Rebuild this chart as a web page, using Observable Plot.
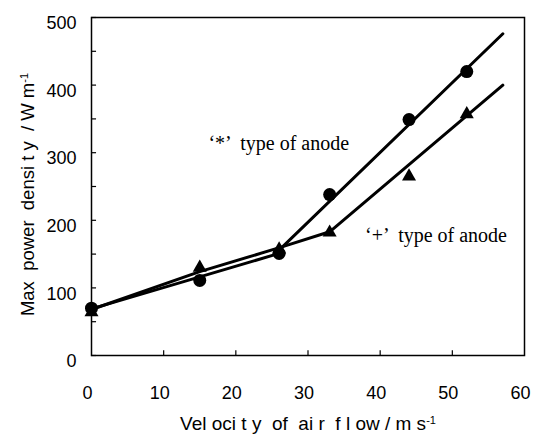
<!DOCTYPE html>
<html>
<head>
<meta charset="utf-8">
<script src="https://cdn.jsdelivr.net/npm/d3@7"></script>
<script src="https://cdn.jsdelivr.net/npm/@observablehq/plot@0.6"></script>
<style>
  html, body { margin: 0; padding: 0; background: #fff; }
</style>
</head>
<body>
<div id="chart"></div>
<script>
// Measured points
const velocity = [0, 15, 26, 33, 44, 52];
const circleDensity = [70, 111, 151, 238, 349, 420];     // '*' type of anode
const triangleDensity = [64, 130, 157, 182, 265, 357];   // '+' type of anode

// Fitted (piecewise) lines drawn in the figure
const circleFitX = [0, 26, 26.5, 57];
const circleFitY = [69, 151, 161, 476];
const triangleFitX = [0, 15, 26.5, 33, 57];
const triangleFitY = [68, 124, 161, 183, 400];

// Ticks
const xTicks = [0, 10, 20, 30, 40, 50, 60];
const yTicks = [0, 100, 200, 300, 400, 500];
const yMinorTicks = [50, 150, 250, 350, 450];

// Text
const xTitle = "Vel oci t y  of  ai r  f l ow / m s";
const yTitle = "Max  power  densi t y  / W m";
const unitSup = "-1";
const annotationText = ["\u2018*\u2019  type of anode", "\u2018+\u2019  type of anode"];
const annotationX = [16.2, 37.9];
const annotationY = [314, 177];

const circlePts = velocity.map((v, i) => ({x: v, y: circleDensity[i]}));
const trianglePts = velocity.map((v, i) => ({x: v, y: triangleDensity[i]}));
const circleFit = circleFitX.map((v, i) => ({x: v, y: circleFitY[i]}));
const triangleFit = triangleFitX.map((v, i) => ({x: v, y: triangleFitY[i]}));
const annotations = annotationText.map((t, i) => ({text: t, x: annotationX[i], y: annotationY[i]}));

const sans = "'Liberation Sans', Arial, sans-serif";
const serif = "'Liberation Serif', 'Times New Roman', serif";

const chart = Plot.plot({
  width: 533,
  height: 438,
  marginLeft: 91,
  marginRight: 9,
  marginTop: 17,
  marginBottom: 83,
  x: {domain: [0, 60]},
  y: {domain: [0, 500]},
  style: {fontFamily: sans, fontSize: "17px", color: "black", background: "white"},
  marks: [
    Plot.axisX(xTicks, {tickSize: 0, tickPadding: 31, dx: -4, fontSize: 18, label: null}),
    Plot.axisY(yTicks, {tickSize: 0, tickPadding: 15, dy: 6, fontSize: 18, label: null}),
    Plot.ruleX(xTicks.slice(1, -1), {x: d => d, y1: 0, y2: 7, stroke: "black", strokeWidth: 1.2}),
    Plot.ruleY(yTicks.concat(yMinorTicks), {y: d => d, x1: 0, x2: 0.7, stroke: "black", strokeWidth: 1.2}),
    Plot.line(circleFit, {x: "x", y: "y", stroke: "black", strokeWidth: 3}),
    Plot.line(triangleFit, {x: "x", y: "y", stroke: "black", strokeWidth: 3}),
    Plot.dot(trianglePts, {x: "x", y: "y", symbol: "triangle", r: 5.2, fill: "black"}),
    Plot.dot(circlePts, {x: "x", y: "y", symbol: "circle", r: 6.5, fill: "black"}),
    Plot.text(annotations, {x: "x", y: "y", text: "text", textAnchor: "start", fontFamily: serif, fontSize: 20}),
    Plot.text([xTitle], {frameAnchor: "bottom", textAnchor: "middle", lineAnchor: "middle", dy: 68, text: d => d, fontSize: 19}),
    Plot.text([yTitle], {frameAnchor: "left", textAnchor: "middle", lineAnchor: "middle", dx: -63, dy: 8, rotate: -90, text: d => d, fontSize: 18.5}),
    Plot.frame({stroke: "black", strokeWidth: 1.5})
  ]
});

document.getElementById("chart").appendChild(chart);

// superscripts on axis titles
d3.select(chart).selectAll("text").style("white-space", "pre");
d3.select(chart).selectAll("text").filter(function() {
  return this.textContent === xTitle || this.textContent === yTitle;
}).each(function() {
  d3.select(this).append("tspan").attr("dy", "-0.55em").attr("font-size", 11).text(unitSup);
});
</script>
</body>
</html>
